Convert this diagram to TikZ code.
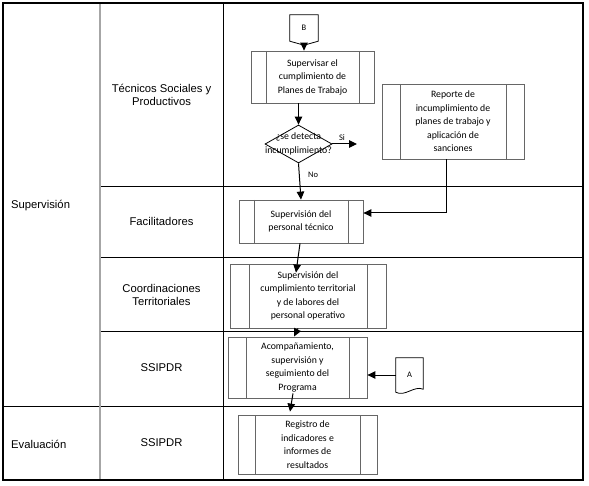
\documentclass[tikz,border=0pt]{standalone}
\usepackage{fontspec}
\setmainfont{Carlito}
\newfontfamily\lanefam{Liberation Sans}
\usetikzlibrary{arrows.meta,shapes.geometric}
\newcommand\bxfont{\fontsize{9.8}{13.6}\selectfont}
\newcommand\lnfont{\lanefam\fontsize{11.3}{13}\selectfont}
\tikzset{
  procbox/.style={draw=black!60, line width=0.8bp, fill=white, inner sep=0pt, align=center, font=\bxfont,
    path picture={\draw[black!60,line width=0.8bp]
      ([xshift=#1]path picture bounding box.north west) -- ([xshift=#1]path picture bounding box.south west)
      ([xshift=-#1]path picture bounding box.north east) -- ([xshift=-#1]path picture bounding box.south east);}},
  procbox/.default=16bp,
  lane/.style={font=\lnfont, align=center, inner sep=0pt},
  conn/.style={-{Triangle[length=8bp,width=7.5bp]}, line width=1bp},
  grid/.style={line width=0.7bp, black},
  small/.style={font=\fontsize{8.5}{10}\selectfont, inner sep=0pt}
}
\begin{document}
\begin{tikzpicture}[x=1bp,y=-1bp]
\useasboundingbox (0,0) rectangle (589,486);
% swimlane grid
\draw[grid] (100,186) -- (583,186);
\draw[grid] (100,257) -- (583,257);
\draw[grid] (100,331) -- (583,331);
\draw[grid] (3,406) -- (583,406);
\draw[grid] (223,3) -- (223,480);
\draw[line width=1.2bp, black!35] (100,3) -- (100,480);
\draw[line width=1.3bp] (3,3) rectangle (583,480);
% lane labels
\node[lane, anchor=west] (lsup) at (11,206) {Supervisión};
\node[lane, anchor=west] (leva) at (11,444) {Evaluación};
\node[lane] (ltec) at (161.5,95) {Técnicos Sociales y\\Productivos};
\node[lane] (lfac) at (161.5,221) {Facilitadores};
\node[lane] (lcoo) at (161.5,295) {Coordinaciones\\Territoriales};
\node[lane] (lss1) at (161.5,368) {SSIPDR};
\node[lane] (lss2) at (161.5,443) {SSIPDR};
% off-page connector B
\node[small, minimum width=28bp, minimum height=26bp] (B) at (304,28) {B};
\draw[line width=0.8bp] (B.south west) -- (B.north west) -- (B.north east) -- (B.south east)
  -- ([yshift=-4bp]B.south) -- cycle;
% process boxes
\node[procbox=15bp, minimum width=123bp, minimum height=52bp] (b1) at (312.5,77) {Supervisar el\\cumplimiento de\\Planes de Trabajo};
\node[procbox=18bp, minimum width=142bp, minimum height=75bp] (rep) at (453,121.5) {Reporte de\\incumplimiento de\\planes de trabajo y\\aplicación de\\sanciones};
\node[draw, line width=0.8bp, shape=diamond, minimum width=67bp, minimum height=38bp, inner sep=0pt,
  label={[font=\bxfont, align=center, inner sep=0pt]center:{¿se detecta\\incumplimiento?}}] (d) at (298.5,144) {};
\node[procbox=15bp, minimum width=124bp, minimum height=43bp] (b2) at (301,221.5) {Supervisión del\\personal técnico};
\node[procbox=19bp, minimum width=156bp, minimum height=64bp] (b3) at (308,296) {Supervisión del\\cumplimiento territorial\\y de labores del\\personal operativo};
\node[procbox=18bp, minimum width=139bp, minimum height=61bp] (b4) at (297.5,367.5) {Acompañamiento,\\supervisión y\\seguimiento del\\Programa};
\node[procbox=17bp, minimum width=139bp, minimum height=59bp] (b5) at (307.5,444.5) {Registro de\\indicadores e\\informes de\\resultados};
% off-page connector A
\node[small, minimum width=27bp, minimum height=34bp] (A) at (409.5,375) {A};
\draw[line width=0.8bp] (A.north west) -- (A.north east) -- ([yshift=3bp]A.south east)
  .. controls ([xshift=-9bp,yshift=7bp]A.south east) and ([xshift=9bp,yshift=-5bp]A.south west) .. (A.south west) -- cycle;
% connectors
\draw[conn] ([yshift=-4bp]B.south) -- (B.south |- b1.north);
\draw[conn] (d.north |- b1.south) -- (d.north);
\coordinate (siend) at (357,144);
\draw[conn] (d.east) -- (siend);
\node[small] (si) at (342,138) {Si};
\draw[conn] (d.south) -- (b2.north);
\node[small] (no) at (313,175) {No};
\draw[conn] ([xshift=-7bp]rep.south) |- ([yshift=8.5bp]b2.east);
\draw[conn] ([xshift=-1bp]b2.south) -- ([xshift=-12bp,yshift=-9bp]b3.north);
\draw[conn] ([xshift=-10bp]b3.south) -- ([xshift=-3.5bp]b4.north);
\draw[conn] (A.west) -- (b4.east |- A.west);
\draw[conn] ([xshift=-4.5bp,yshift=5bp]b4.south) -- ([xshift=-17.5bp,yshift=3bp]b5.north);
\end{tikzpicture}
\end{document}
